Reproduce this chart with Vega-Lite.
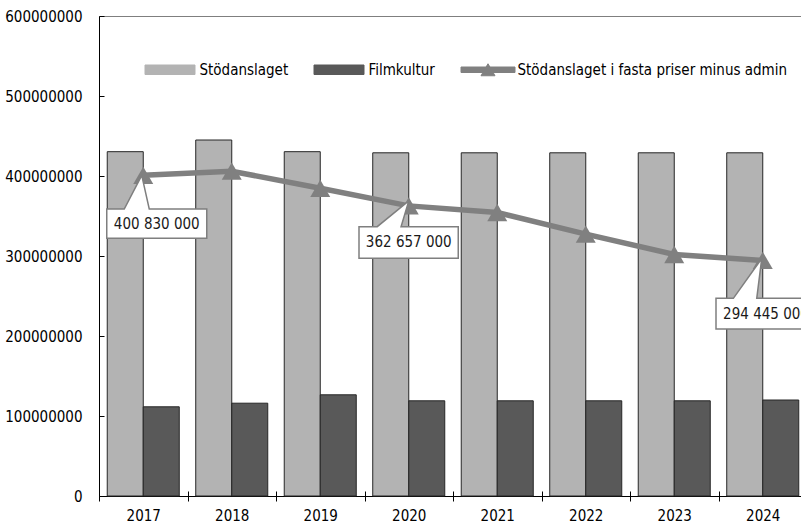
{
  "$schema": "https://vega.github.io/schema/vega-lite/v6.json",
  "width": 708,
  "height": 480,
  "autosize": {"type": "none"},
  "padding": {"left": 99, "top": 16, "right": 0, "bottom": 32},
  "config": {
    "font": "DejaVu Sans Condensed, DejaVu Sans, sans-serif",
    "view": {"stroke": "#7f7f7f", "strokeWidth": 1},
    "axis": {"labelOverlap": false, "labelFontSize": 15, "labelFontWeight": "normal", "labelColor": "#000000", "domainColor": "#000000", "tickColor": "#000000", "grid": false, "title": null},
    "legend": {"labelFontSize": 15, "labelFontWeight": "normal", "labelColor": "#000000"},
    "locale": {"number": {"decimal": ",", "thousands": " ", "grouping": [3], "currency": ["", " kr"]}}
  },
  "datasets": {
    "bars": [
      {"year": "2017", "series": "Stödanslaget", "value": 430400000},
      {"year": "2017", "series": "Filmkultur", "value": 111500000},
      {"year": "2018", "series": "Stödanslaget", "value": 445000000},
      {"year": "2018", "series": "Filmkultur", "value": 116000000},
      {"year": "2019", "series": "Stödanslaget", "value": 430400000},
      {"year": "2019", "series": "Filmkultur", "value": 126500000},
      {"year": "2020", "series": "Stödanslaget", "value": 429000000},
      {"year": "2020", "series": "Filmkultur", "value": 119000000},
      {"year": "2021", "series": "Stödanslaget", "value": 429000000},
      {"year": "2021", "series": "Filmkultur", "value": 119000000},
      {"year": "2022", "series": "Stödanslaget", "value": 429000000},
      {"year": "2022", "series": "Filmkultur", "value": 119000000},
      {"year": "2023", "series": "Stödanslaget", "value": 429000000},
      {"year": "2023", "series": "Filmkultur", "value": 119000000},
      {"year": "2024", "series": "Stödanslaget", "value": 429000000},
      {"year": "2024", "series": "Filmkultur", "value": 120000000}
    ],
    "line": [
      {"year": "2017", "series": "Stödanslaget i fasta priser minus admin", "value": 400830000},
      {"year": "2018", "series": "Stödanslaget i fasta priser minus admin", "value": 406000000},
      {"year": "2019", "series": "Stödanslaget i fasta priser minus admin", "value": 384600000},
      {"year": "2020", "series": "Stödanslaget i fasta priser minus admin", "value": 362657000},
      {"year": "2021", "series": "Stödanslaget i fasta priser minus admin", "value": 354400000},
      {"year": "2022", "series": "Stödanslaget i fasta priser minus admin", "value": 327300000},
      {"year": "2023", "series": "Stödanslaget i fasta priser minus admin", "value": 301900000},
      {"year": "2024", "series": "Stödanslaget i fasta priser minus admin", "value": 294445000}
    ]
  },
  "resolve": {"axis": {"x": "independent"}},
  "layer": [
    {
      "data": {"name": "bars"},
      "mark": {"type": "bar", "stroke": "#262626", "strokeWidth": 1},
      "encoding": {
        "x": {"field": "year", "type": "ordinal", "scale": {"paddingInner": 0, "paddingOuter": 0},
              "axis": {"labelAngle": 0, "tickBand": "extent", "tickSize": 5, "labelPadding": 7}},
        "xOffset": {"field": "series", "sort": ["Stödanslaget", "Filmkultur"], "scale": {"paddingInner": 0, "paddingOuter": 0.229}},
        "y": {"field": "value", "type": "quantitative", "scale": {"domain": [0, 600000000], "nice": false},
              "axis": {"values": [0, 100000000, 200000000, 300000000, 400000000, 500000000, 600000000], "format": "d", "tickSize": -5, "labelPadding": 22}},
        "color": {"field": "series", "type": "nominal",
          "scale": {"domain": ["Stödanslaget", "Filmkultur", "Stödanslaget i fasta priser minus admin"], "range": ["#b3b3b3", "#595959", "#808080"]},
          "legend": {
            "title": null, "orient": "none", "direction": "horizontal", "legendX": 45.5, "legendY": 28,
            "symbolSize": 2500, "symbolStrokeWidth": 1, "labelOffset": 4, "columnPadding": 23,
            "labelLimit": 400, "padding": 0,
            "encoding": {"symbols": {
              "shape": {"condition": {"test": "datum.value === 'Stödanslaget i fasta priser minus admin'", "value": "M-1.08,-0.11L1.08,-0.11L1.08,0.11L-1.08,0.11Z M0,-0.24L0.28,0.24L-0.28,0.24Z"}, "value": "M-1,-0.19L1,-0.19L1,0.19L-1,0.19Z"},
              "stroke": {"condition": {"test": "datum.value === 'Stödanslaget i fasta priser minus admin'", "value": "#808080"}, "value": "#262626"},
              "strokeWidth": {"value": 1},
              "opacity": {"value": 1},
              "fillOpacity": {"value": 1}
            }}
          }
        }
      }
    },
    {
      "data": {"name": "line"},
      "mark": {"type": "line", "strokeWidth": 5.5},
      "encoding": {
        "x": {"field": "year", "type": "ordinal",
              "axis": {"orient": "bottom", "tickBand": "extent", "tickSize": -5, "labels": false, "domain": false}},
        "y": {"field": "value", "type": "quantitative"},
        "color": {"field": "series", "type": "nominal"}
      }
    },
    {
      "data": {"name": "line"},
      "mark": {"type": "point", "shape": "triangle-up", "size": 400, "filled": true, "color": "#808080", "opacity": 1},
      "encoding": {
        "x": {"field": "year", "type": "ordinal", "axis": null},
        "y": {"field": "value", "type": "quantitative"}
      }
    },
    {
      "data": {"name": "line"},
      "transform": [{"filter": "datum.year === '2017'"}],
      "layer": [
        {"mark": {"type": "point", "shape": "M-36.5,33.7L-19,33.7L-1.5,0L6,33.7L63.5,33.7L63.5,63L-36.5,63Z", "size": 4, "filled": true, "fill": "#ffffff", "stroke": "#7f7f7f", "strokeWidth": 1.5, "opacity": 1}},
        {"mark": {"type": "text", "dx": 13.5, "dy": 48.3, "align": "center", "baseline": "middle", "fontSize": 15, "color": "#1a1a1a"},
         "encoding": {"text": {"field": "value", "type": "quantitative", "format": ",d"}}}
      ],
      "encoding": {
        "x": {"field": "year", "type": "ordinal", "axis": null},
        "y": {"field": "value", "type": "quantitative"}
      }
    },
    {
      "data": {"name": "line"},
      "transform": [{"filter": "datum.year === '2020'"}],
      "layer": [
        {"mark": {"type": "point", "shape": "M-49.75,20.8L-31.5,20.8L0,-5L-7.7,20.8L49.5,20.8L49.5,52.4L-49.75,52.4Z", "size": 4, "filled": true, "fill": "#ffffff", "stroke": "#7f7f7f", "strokeWidth": 1.5, "opacity": 1}},
        {"mark": {"type": "text", "dx": 0, "dy": 36.6, "align": "center", "baseline": "middle", "fontSize": 15, "color": "#1a1a1a"},
         "encoding": {"text": {"field": "value", "type": "quantitative", "format": ",d"}}}
      ],
      "encoding": {
        "x": {"field": "year", "type": "ordinal", "axis": null},
        "y": {"field": "value", "type": "quantitative"}
      }
    },
    {
      "data": {"name": "line"},
      "transform": [{"filter": "datum.year === '2024'"}],
      "layer": [
        {"mark": {"type": "point", "shape": "M-46.75,37.9L-29.4,37.9L-1,-2L-6,37.9L53.25,37.9L53.25,68.6L-46.75,68.6Z", "size": 4, "filled": true, "fill": "#ffffff", "stroke": "#7f7f7f", "strokeWidth": 1.5, "opacity": 1}},
        {"mark": {"type": "text", "dx": 3.25, "dy": 53.3, "align": "center", "baseline": "middle", "fontSize": 15, "color": "#1a1a1a"},
         "encoding": {"text": {"field": "value", "type": "quantitative", "format": ",d"}}}
      ],
      "encoding": {
        "x": {"field": "year", "type": "ordinal", "axis": null},
        "y": {"field": "value", "type": "quantitative"}
      }
    }
  ]
}
